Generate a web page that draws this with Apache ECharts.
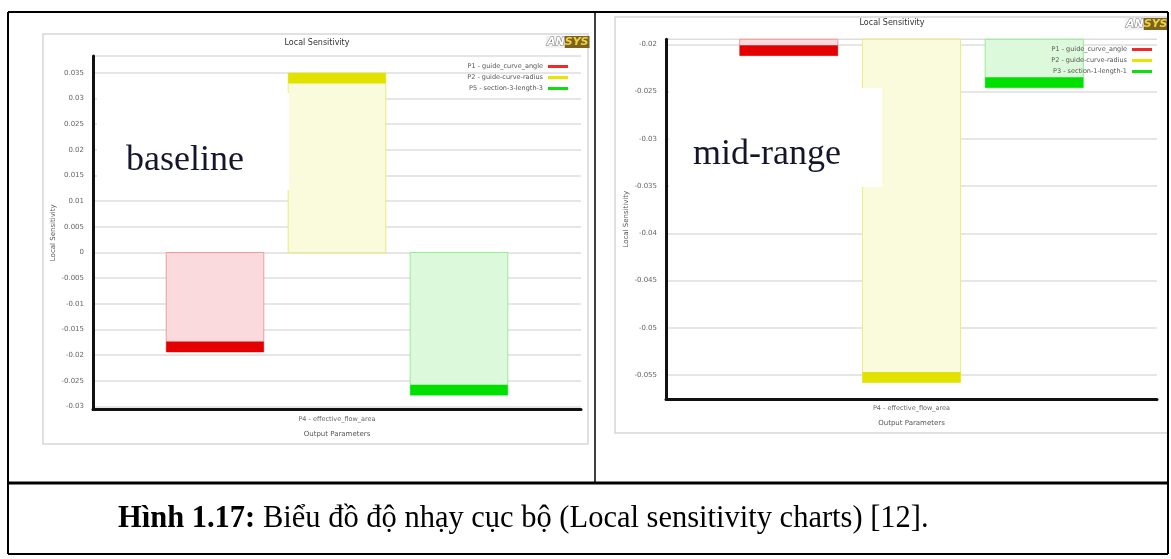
<!DOCTYPE html>
<html>
<head>
<meta charset="utf-8">
<title>Local Sensitivity</title>
<script src="https://cdn.jsdelivr.net/npm/echarts@6/dist/echarts.min.js"></script>
<style>
  html, body { margin: 0; padding: 0; background: #fff; }
  #chart { width: 1171px; height: 559px; }
</style>
</head>
<body>
<div id="chart"></div>
<script>
// ---- data ----
const outputCategories = ['P4 - effective_flow_area'];

const baselineNames = ['P1 - guide_curve_angle', 'P2 - guide-curve-radius', 'P5 - section-3-length-3'];
const baselineValues = [-0.0194, 0.0350, -0.0278];
const baselineTicks = [-0.03, -0.025, -0.02, -0.015, -0.01, -0.005, 0, 0.005, 0.01, 0.015, 0.02, 0.025, 0.03, 0.035];
const baselineRange = [-0.0306, 0.0383];

const midRangeNames = ['P1 - guide_curve_angle', 'P2 - guide-curve-radius', 'P3 - section-1-length-1'];
const midRangeValues = [-0.0212, -0.0558, -0.0246];
const midRangeTicks = [-0.055, -0.05, -0.045, -0.04, -0.035, -0.03, -0.025, -0.02];
const midRangeRange = [-0.05754, -0.01947];

const panelTitle = 'Local Sensitivity';
const xAxisTitle = 'Output Parameters';
const yAxisTitle = 'Local Sensitivity';
const caption = ['Hình 1.17:', ' Biểu đồ độ nhạy cục bộ (Local sensitivity charts) [12].'];

// ---- styling ----
const palette = [
  { dark: '#e40000', light: '#fadadc', edge: '#f29a9a', key: '#ee2a2a' },
  { dark: '#e2e200', light: '#fafadc', edge: '#ecec78', key: '#e6e600' },
  { dark: '#00e000', light: '#dcf9dc', edge: '#98ec98', key: '#10dd10' }
];
const BAR_WIDTH = 0.2;   // fraction of the category band
const BAR_STEP = 0.25;   // distance between neighbouring bars, fraction of band
const CAP = 10.5;        // px height of the solid end band
const SMALL = 'DejaVu Sans';
const SERIF = 'Liberation Serif';

const grids = [
  { left: 93, top: 56, width: 488, height: 353.5 },
  { left: 666, top: 39.3, width: 491, height: 359.7 }
];

function makeRenderer(slot, col) {
  return function (params, api) {
    const cat = api.value(0);
    const val = api.value(1);
    const zero = api.coord([cat, 0]);
    const tip = api.coord([cat, val]);
    const band = api.size([1, 0])[0];
    const w = band * BAR_WIDTH;
    const cx = zero[0] + (slot - 1) * band * BAR_STEP;
    const x = cx - w / 2;
    const cs = params.coordSys;
    const box = { x: cs.x, y: cs.y, width: cs.width, height: cs.height };
    const y0 = Math.min(zero[1], tip[1]);
    const y1 = Math.max(zero[1], tip[1]);
    const body = echarts.graphic.clipRectByRect({ x: x, y: y0, width: w, height: y1 - y0 }, box);
    const capY = val < 0 ? tip[1] - CAP : tip[1];
    const cap = echarts.graphic.clipRectByRect({ x: x, y: capY, width: w, height: CAP }, box);
    const children = [];
    if (body) children.push({ type: 'rect', shape: body, style: { fill: col.light, stroke: col.edge, lineWidth: 1 } });
    if (cap) children.push({ type: 'rect', shape: cap, style: { fill: col.dark } });
    return { type: 'group', children: children };
  };
}

function buildSeries(names, values, gridIndex) {
  return names.map(function (name, i) {
    return {
      type: 'custom',
      name: name,
      xAxisIndex: gridIndex,
      yAxisIndex: gridIndex,
      itemStyle: { color: palette[i].key },
      encode: { x: 0, y: 1 },
      data: [[0, values[i]]],
      renderItem: makeRenderer(i, palette[i]),
      silent: true
    };
  });
}

function buildYAxis(gridIndex, range, ticks) {
  return {
    type: 'value',
    gridIndex: gridIndex,
    min: range[0],
    max: range[1],
    name: yAxisTitle,
    nameLocation: 'middle',
    nameGap: 36,
    nameRotate: 90,
    nameTextStyle: { fontFamily: SMALL, fontSize: 7, color: '#555' },
    axisLine: { show: true, lineStyle: { color: '#111', width: 3 } },
    axisTick: { show: false, customValues: ticks },
    axisLabel: {
      customValues: ticks,
      fontFamily: SMALL, fontSize: 7, color: '#666', margin: 9,
      formatter: function (v) { return String(+v.toFixed(3)); }
    },
    splitLine: { show: true, lineStyle: { color: '#dedede', width: 1.5 } }
  };
}

function buildXAxis(gridIndex) {
  return {
    type: 'category',
    gridIndex: gridIndex,
    data: outputCategories,
    name: xAxisTitle,
    nameLocation: 'middle',
    nameGap: 21,
    nameTextStyle: { fontFamily: SMALL, fontSize: 7, color: '#555' },
    axisLine: { show: true, onZero: false, lineStyle: { color: '#111', width: 3 } },
    axisTick: { show: false },
    axisLabel: { fontFamily: SMALL, fontSize: 6.5, color: '#666', margin: 6 },
    splitLine: { show: false }
  };
}

function buildLegend(names, right, top) {
  return {
    orient: 'vertical',
    right: right,
    top: top,
    align: 'right',
    icon: 'rect',
    itemWidth: 20,
    itemHeight: 3,
    itemGap: 4,
    selectedMode: false,
    textStyle: { fontFamily: SMALL, fontSize: 6.5, color: '#555', padding: [0, 0, 0, 0] },
    data: names.map(function (n, i) { return { name: n, itemStyle: { color: palette[i].key } }; })
  };
}

function ansysLogo(x, y) {
  return {
    type: 'text', x: x, y: y, z: 50,
    style: {
      text: '{a|AN}{b|SYS}',
      rich: {
        a: { fontFamily: SMALL, fontSize: 11, fontWeight: 'bold', fontStyle: 'italic', fill: '#fff', stroke: '#777', lineWidth: 1, backgroundColor: '#f2f2f2', padding: [1, 0, 0, 1] },
        b: { fontFamily: SMALL, fontSize: 11, fontWeight: 'bold', fontStyle: 'italic', fill: '#f0d040', backgroundColor: '#7a6420', padding: [1, 1, 0, 0] }
      }
    }
  };
}

// white patch carrying a large word, laid over part of a plot
function labelPatch(x, y, w, h, text, tx, tyMiddle) {
  return [
    { type: 'rect', z: 60, shape: { x: x, y: y, width: w, height: h }, style: { fill: '#fff' } },
    { type: 'text', z: 61, x: tx, y: tyMiddle, style: { text: text, fontFamily: SERIF, fontSize: 36, fill: '#15152e', verticalAlign: 'middle' } }
  ];
}

const black = { stroke: '#000', lineWidth: 2 };
const graphics = [
  // chart panels
  { type: 'rect', z: -5, shape: { x: 43, y: 34, width: 545, height: 410 }, style: { fill: 'none', stroke: '#d6d6d6', lineWidth: 1.5 } },
  { type: 'rect', z: -5, shape: { x: 615, y: 17, width: 553, height: 416 }, style: { fill: 'none', stroke: '#d6d6d6', lineWidth: 1.5 } },
  // plot top edges
  { type: 'line', z: -4, shape: { x1: grids[0].left, y1: grids[0].top, x2: grids[0].left + grids[0].width, y2: grids[0].top }, style: { stroke: '#dcdcdc', lineWidth: 1.5 } },
  { type: 'line', z: -4, shape: { x1: grids[1].left, y1: grids[1].top, x2: grids[1].left + grids[1].width, y2: grids[1].top }, style: { stroke: '#dcdcdc', lineWidth: 1.5 } },
  // panel titles
  { type: 'text', x: 317, y: 43, style: { text: panelTitle, fontFamily: SMALL, fontSize: 8, fill: '#333', align: 'center', verticalAlign: 'middle' } },
  { type: 'text', x: 892, y: 23, style: { text: panelTitle, fontFamily: SMALL, fontSize: 8, fill: '#333', align: 'center', verticalAlign: 'middle' } },
  ansysLogo(546, 36),
  ansysLogo(1125, 18)
].concat(
  labelPatch(97, 93, 192, 97, 'baseline', 126, 161),
  labelPatch(669, 88, 213, 99, 'mid-range', 693, 155),
  [
    // table frame
    { type: 'line', z: 80, shape: { x1: 8, y1: 12, x2: 1168, y2: 12 }, style: black },
    { type: 'line', z: 80, shape: { x1: 8, y1: 12, x2: 8, y2: 554 }, style: black },
    { type: 'line', z: 80, shape: { x1: 1168, y1: 12, x2: 1168, y2: 554 }, style: black },
    { type: 'line', z: 80, shape: { x1: 8, y1: 554, x2: 1168, y2: 554 }, style: black },
    { type: 'line', z: 80, shape: { x1: 595, y1: 12, x2: 595, y2: 483 }, style: { stroke: '#000', lineWidth: 1.5 } },
    { type: 'line', z: 80, shape: { x1: 8, y1: 483, x2: 1168, y2: 483 }, style: { stroke: '#000', lineWidth: 3 } },
    // caption
    {
      type: 'text', z: 80, x: 118, y: 519,
      style: {
        text: '{b|' + caption[0] + '}' + caption[1],
        fontFamily: SERIF, fontSize: 30.5, fill: '#000', verticalAlign: 'middle',
        rich: { b: { fontFamily: SERIF, fontSize: 30.5, fontWeight: 'bold', fill: '#000' } }
      }
    }
  ]
);

const chart = echarts.init(document.getElementById('chart'), null, { renderer: 'canvas' });
chart.setOption({
  backgroundColor: '#fff',
  animation: false,
  grid: grids.map(function (g) { return Object.assign({ containLabel: false }, g); }),
  xAxis: [buildXAxis(0), buildXAxis(1)],
  yAxis: [buildYAxis(0, baselineRange, baselineTicks), buildYAxis(1, midRangeRange, midRangeTicks)],
  legend: [buildLegend(baselineNames, 598, 58), buildLegend(midRangeNames, 14, 41)],
  series: buildSeries(baselineNames, baselineValues, 0).concat(buildSeries(midRangeNames, midRangeValues, 1)),
  graphic: { elements: graphics }
});
</script>
</body>
</html>
